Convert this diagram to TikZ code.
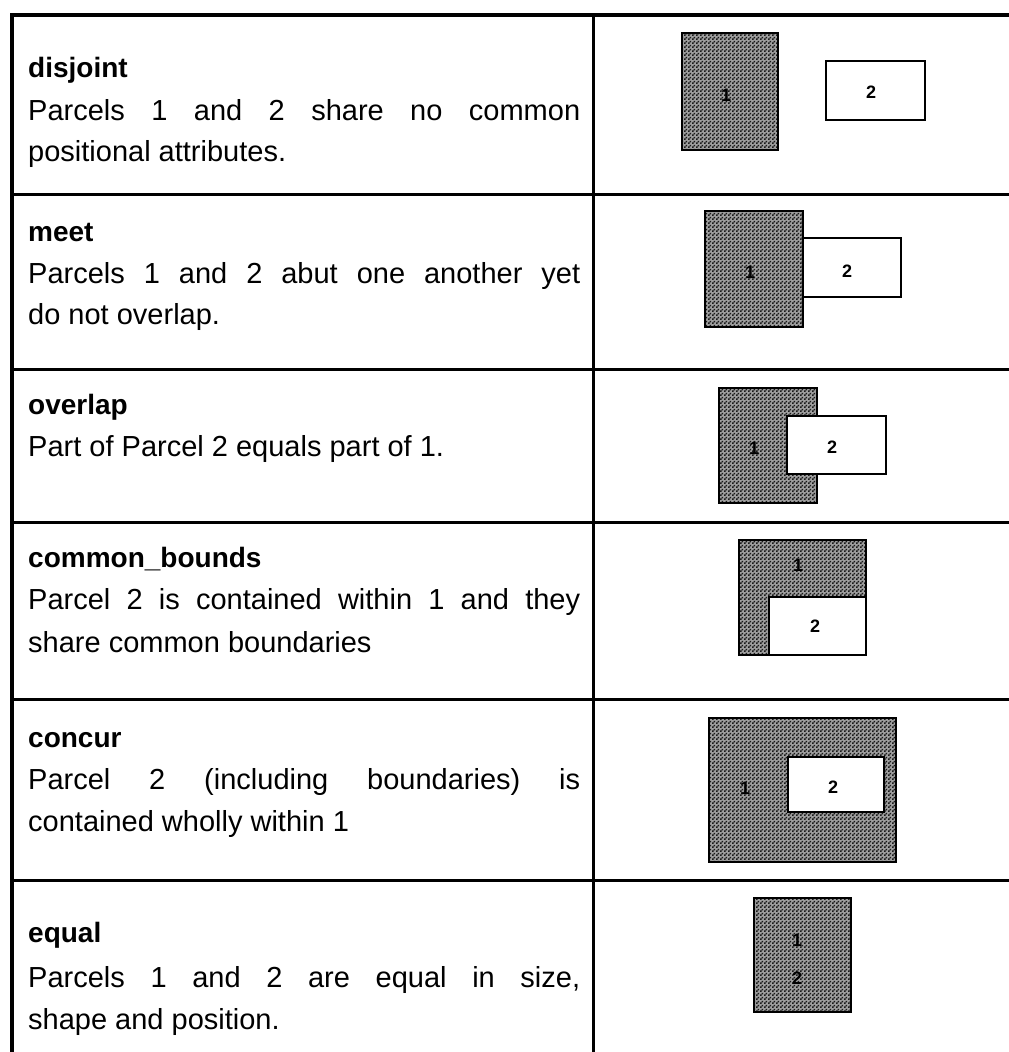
\documentclass[tikz,border=0pt]{standalone}
\usepackage{fontspec}
\setmainfont{Liberation Sans}
\usetikzlibrary{patterns}
\pgfdeclarepatternformonly{finecheck}{\pgfpointorigin}{\pgfqpoint{4pt}{4pt}}{\pgfqpoint{4pt}{4pt}}{%
  \pgfpathrectangle{\pgfpointorigin}{\pgfqpoint{2pt}{2pt}}%
  \pgfpathrectangle{\pgfqpoint{2pt}{2pt}}{\pgfqpoint{2pt}{2pt}}%
  \pgfusepath{fill}}
\newcommand{\jline}[1]{\makebox[552pt][s]{#1}}
\tikzset{
  rule/.style={line width=3pt},
  ttl/.style={font=\fontsize{28}{30}\selectfont\bfseries, anchor=base west, inner sep=0pt},
  bdy/.style={font=\fontsize{29}{32}\selectfont, anchor=base west, inner sep=0pt},
  parcel/.style={draw, line width=2.5pt, preaction={fill=black!38}, pattern=finecheck, pattern color=black!90},
  parcelw/.style={draw, line width=2.5pt, fill=white},
  lbl/.style={font=\fontsize{18}{18}\selectfont\bfseries, inner sep=0pt}
}
\begin{document}
\begin{tikzpicture}[x=1pt, y=-1pt]
\useasboundingbox (0,0) rectangle (1009,1052);
% table rules
\draw[rule, line width=3.5pt] (1009,15) -- (12,15) -- (12,1052);
\draw[rule] (593,15) -- (593,1052);
\foreach \yy in {194,369,522,699,880} \draw[rule] (12,\yy) -- (1009,\yy);
% row 1 disjoint
\node[ttl] (t1) at (28,77) {disjoint};
\node[bdy] (b1a) at (28,120) {\jline{Parcels 1 and 2 share no common}};
\node[bdy] (b1b) at (28,161) {positional attributes.};
\draw[parcel] (682,33) rectangle (778,150);
\draw[parcelw] (826,61) rectangle (925,120);
\node[lbl] (r1a) at (726,95) {1};
\node[lbl] (r1b) at (871,92) {2};
% row 2 meet
\node[ttl] (t2) at (28,241) {meet};
\node[bdy] (b2a) at (28,283) {\jline{Parcels 1 and 2 abut one another yet}};
\node[bdy] (b2b) at (28,324) {do not overlap.};
\draw[parcel] (705,211) rectangle (803,327);
\draw[parcelw] (803,238) rectangle (901,297);
\node[lbl] (r2a) at (750,272) {1};
\node[lbl] (r2b) at (847,271) {2};
% row 3 overlap
\node[ttl] (t3) at (28,414) {overlap};
\node[bdy] (b3a) at (28,456) {Part of Parcel 2 equals part of 1.};
\draw[parcel] (719,388) rectangle (817,503);
\draw[parcelw] (787,416) rectangle (886,474);
\node[lbl] (r3a) at (754,448) {1};
\node[lbl] (r3b) at (832,447) {2};
% row 4 common_bounds
\node[ttl] (t4) at (28,567) {common\_bounds};
\node[bdy] (b4a) at (28,609) {\jline{Parcel 2 is contained within 1 and they}};
\node[bdy] (b4b) at (28,652) {share common boundaries};
\draw[parcel] (739,540) rectangle (866,655);
\draw[parcelw] (769,597) rectangle (866,655);
\node[lbl] (r4a) at (798,565) {1};
\node[lbl] (r4b) at (815,626) {2};
% row 5 concur
\node[ttl] (t5) at (28,747) {concur};
\node[bdy] (b5a) at (28,789) {\jline{Parcel 2 (including boundaries) is}};
\node[bdy] (b5b) at (28,831) {contained wholly within 1};
\draw[parcel] (709,718) rectangle (896,862);
\draw[parcelw] (788,757) rectangle (884,812);
\node[lbl] (r5a) at (745,788) {1};
\node[lbl] (r5b) at (833,787) {2};
% row 6 equal
\node[ttl] (t6) at (28,942) {equal};
\node[bdy] (b6a) at (28,987) {\jline{Parcels 1 and 2 are equal in size,}};
\node[bdy] (b6b) at (28,1029) {shape and position.};
\draw[parcel] (754,898) rectangle (851,1012);
\node[lbl] (r6a) at (797,940) {1};
\node[lbl] (r6b) at (797,978) {2};
\end{tikzpicture}
\end{document}
